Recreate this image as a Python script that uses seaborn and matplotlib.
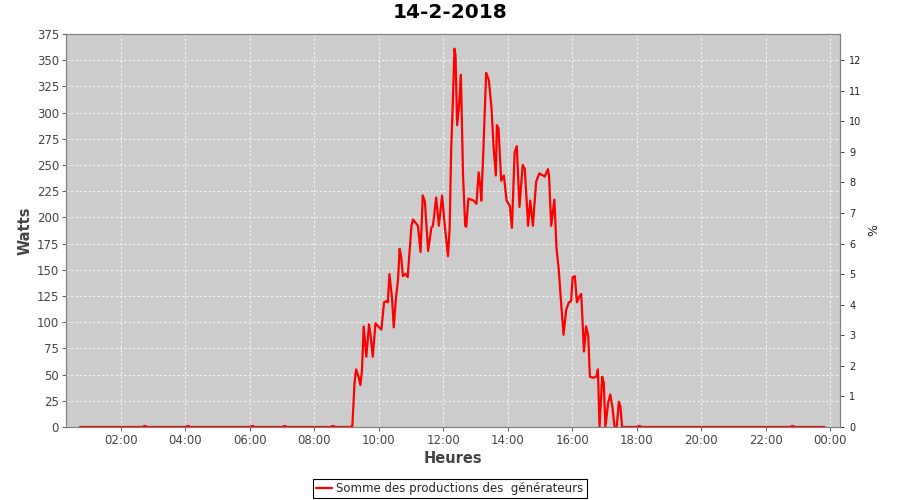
import seaborn as sns
import pandas as pd
import matplotlib.pyplot as plt
import matplotlib.dates as mdates

# readings of the day (time of day, watts)
times = ["00:44", "02:00", "02:40", "02:45", "02:50", "04:00", "04:05", "04:10",
         "06:00", "06:05", "06:10", "07:00", "07:05", "07:10", "08:30", "08:35",
         "08:40", "09:06", "09:11", "09:15", "09:18", "09:23", "09:26", "09:29",
         "09:32", "09:37", "09:42", "09:45", "09:49", "09:54", "09:59", "10:05",
         "10:10", "10:14", "10:17", "10:20", "10:25", "10:28", "10:32", "10:36",
         "10:39", "10:42", "10:45", "10:50", "10:54", "11:01", "11:04", "11:13",
         "11:18", "11:22", "11:26", "11:32", "11:38", "11:41", "11:47", "11:52",
         "11:58", "12:03", "12:09", "12:12", "12:15", "12:18", "12:21", "12:23",
         "12:26", "12:30", "12:33", "12:37", "12:41", "12:43", "12:47", "12:57",
         "13:02", "13:06", "13:09", "13:11", "13:15", "13:20", "13:25", "13:30",
         "13:34", "13:38", "13:40", "13:43", "13:48", "13:53", "13:58", "14:04",
         "14:08", "14:13", "14:17", "14:22", "14:28", "14:32", "14:38", "14:42",
         "14:47", "14:53", "14:59", "15:09", "15:15", "15:17", "15:21", "15:27",
         "15:31", "15:35", "15:40", "15:44", "15:49", "15:54", "15:58", "16:01",
         "16:05", "16:09", "16:13", "16:17", "16:22", "16:26", "16:30", "16:33",
         "16:39", "16:45", "16:48", "16:51", "16:56", "16:59", "17:02", "17:07",
         "17:11", "17:15", "17:19", "17:23", "17:27", "17:30", "17:33", "18:00",
         "18:05", "18:10", "22:45", "22:50", "22:55", "23:50"]
watts = [0, 0, 0, 1, 0, 0, 1, 0,
         0, 1, 0, 0, 1, 0, 0, 1,
         0, 0, 1, 42, 55, 47, 40, 55,
         96, 67, 98, 87, 67, 99, 96, 93,
         119, 120, 119, 146, 122, 95, 122, 141,
         170, 162, 144, 146, 143, 192, 198, 192,
         167, 221, 215, 168, 190, 192, 219, 192,
         221, 192, 163, 189, 266, 310, 361, 355,
         288, 310, 336, 240, 192, 191, 218, 216,
         213, 243, 230, 216, 266, 338, 331, 304,
         266, 240, 288, 285, 235, 240, 216, 211,
         190, 262, 268, 210, 250, 246, 192, 216,
         192, 234, 242, 239, 246, 240, 192, 217,
         170, 151, 115, 88, 112, 119, 120, 143,
         144, 119, 124, 127, 72, 96, 87, 48,
         47, 48, 55, 0, 48, 42, 0, 23,
         31, 19, 0, 0, 24, 19, 0, 0,
         1, 0, 0, 1, 0, 0]

series_name = "Somme des productions des  générateurs"

data = pd.DataFrame({
    "heure": pd.to_datetime("2018-02-14 " + pd.Series(times)),
    "watts": watts,
})

sns.set_style("darkgrid", rc={"axes.facecolor": "#CCCCCC", "grid.color": "#F4F4F4",
                              "grid.linestyle": (0, (2, 2)), "grid.linewidth": 0.5,
                              "axes.edgecolor": "#808080"})
plt.rcParams["font.family"] = ["DejaVu Sans"]

fig = plt.figure(figsize=(9, 5), dpi=100)
ax = fig.add_axes([0.0733, 0.146, 0.8597, 0.786])

sns.lineplot(data=data, x="heure", y="watts", ax=ax, color="red", lw=1.6,
             label=series_name, legend=False)

ax.set_xlim(pd.Timestamp("2018-02-14 00:18"), pd.Timestamp("2018-02-15 00:18"))
ax.set_ylim(0, 375)
ax.set_yticks(range(0, 376, 25))
ax.xaxis.set_major_locator(mdates.HourLocator(byhour=range(0, 24, 2)))
ax.xaxis.set_major_formatter(mdates.DateFormatter("%H:%M"))
ax.tick_params(axis="both", labelsize=8.5, colors="#444444", length=3, width=0.6,
               direction="out", left=True, bottom=True, pad=2)
ax.set_xlabel("Heures", fontsize=10.5, fontweight="bold", color="#444444", labelpad=3)
ax.set_ylabel("Watts", fontsize=10.5, fontweight="bold", color="#444444", labelpad=3)
for s in ax.spines.values():
    s.set_color("#808080")
    s.set_linewidth(0.8)

# right axis in percent (12 % = 350 W)
ax2 = ax.twinx()
ax2.set_ylim(0, 375 * 12 / 350)
ax2.set_yticks(range(0, 13))
ax2.grid(False)
ax2.tick_params(axis="y", labelsize=7, colors="#222222", length=3, width=0.6,
                direction="out", right=True, pad=4)
ax2.set_ylabel("%", fontsize=9, color="#222222", labelpad=4)

fig.suptitle("14-2-2018", fontsize=14.5, fontweight="bold", color="black", y=0.995)

leg = fig.legend(handles=ax.get_lines()[:1], labels=[series_name],
                 loc="lower center", bbox_to_anchor=(0.5, 0.0), ncol=1,
                 fontsize=8.5, frameon=True, fancybox=False, handlelength=1.3,
                 borderpad=0.25, handletextpad=0.4, borderaxespad=0.2)
leg.get_frame().set_edgecolor("black")
leg.get_frame().set_facecolor("white")
leg.get_frame().set_alpha(1)
leg.get_frame().set_linewidth(0.8)

plt.savefig("out.png", dpi=100)
print('Done.')
